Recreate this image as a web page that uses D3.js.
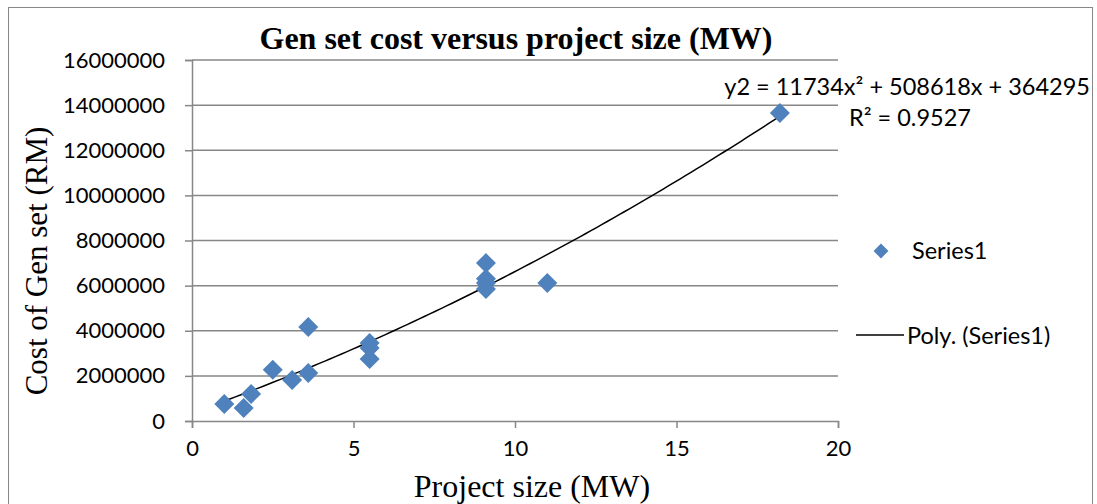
<!DOCTYPE html>
<html>
<head>
<meta charset="utf-8">
<script src="https://cdn.jsdelivr.net/npm/d3@7"></script>
<style>
  body { margin: 0; background: #fff; }
  svg { display: block; }
</style>
</head>
<body>
<div id="container"></div>
<script>
// data: project size (MW) and gen set cost (RM)
const sizeMW = [1.0, 1.6, 1.83, 2.5, 3.1, 3.6, 3.6, 5.5, 5.5, 5.5, 9.1, 9.1, 9.1, 9.1, 11.0, 18.2];
const costRM = [750000, 580000, 1200000, 2270000, 1820000, 2130000, 4170000, 3460000, 3240000, 2750000,
                7000000, 6300000, 6120000, 5850000, 6120000, 13650000];

// trendline coefficients as printed on the chart
const polyCoef = [364295, 508618, 11734];
const xTicks = [0, 5, 10, 15, 20];
const yTicks = [0, 2000000, 4000000, 6000000, 8000000, 10000000, 12000000, 14000000, 16000000];

const width = 1097, height = 504;
const plot = { left: 192, right: 838, top: 60, bottom: 421 };
const blue = "#4f81bd", grid = "#878787";
const tickFont = "Lato, 'Open Sans', sans-serif";
const serif = "'Liberation Serif', 'Times New Roman', serif";

const svg = d3.select("#container").append("svg")
  .attr("width", width).attr("height", height);

// outer chart border
svg.append("rect")
  .attr("x", 8.5).attr("y", 7.5).attr("width", 1084).attr("height", 520)
  .attr("fill", "none").attr("stroke", grid).attr("stroke-width", 1);

const xScale = d3.scaleLinear().domain([0, 20]).range([plot.left, plot.right]);
const yScale = d3.scaleLinear().domain([0, 16000000]).range([plot.bottom, plot.top]);

// horizontal gridlines
svg.append("g").selectAll("line")
  .data(yTicks.filter(d => d > 0))
  .join("line")
  .attr("x1", plot.left).attr("x2", plot.right)
  .attr("y1", d => yScale(d)).attr("y2", d => yScale(d))
  .attr("stroke", grid).attr("stroke-width", 1.5);

// y axis
const yAxis = svg.append("g")
  .attr("transform", `translate(${plot.left},0)`)
  .call(d3.axisLeft(yScale).tickValues(yTicks).tickSize(7).tickPadding(20).tickFormat(d3.format("d")));
// x axis
const xAxis = svg.append("g")
  .attr("transform", `translate(0,${plot.bottom})`)
  .call(d3.axisBottom(xScale).tickValues(xTicks).tickSize(7).tickPadding(12).tickFormat(d3.format("d")));

[yAxis, xAxis].forEach(a => {
  a.select(".domain").attr("stroke", grid).attr("stroke-width", 1.5);
  a.selectAll(".tick line").attr("stroke", grid).attr("stroke-width", 1.5);
  a.selectAll(".tick text").attr("fill", "#000")
    .style("font-family", tickFont).style("font-size", "22px");
});

// polynomial trendline from the printed fit
const poly = x => polyCoef[0] + polyCoef[1] * x + polyCoef[2] * x * x;
const xs = d3.range(0, 101).map(i => d3.min(sizeMW) + (d3.max(sizeMW) - d3.min(sizeMW)) * i / 100);
svg.append("path")
  .datum(xs)
  .attr("d", d3.line().x(d => xScale(d)).y(d => yScale(poly(d))))
  .attr("fill", "none").attr("stroke", "#000").attr("stroke-width", 1.5);

// diamonds
const diamond = d3.symbol().type(d3.symbolSquare).size(200);
svg.append("g").selectAll("path")
  .data(sizeMW.map((x, i) => [x, costRM[i]]))
  .join("path")
  .attr("d", diamond)
  .attr("transform", d => `translate(${xScale(d[0])},${yScale(d[1])}) rotate(45)`)
  .attr("fill", blue);

// title
svg.append("text")
  .attr("x", 516).attr("y", 49).attr("text-anchor", "middle")
  .style("font-family", serif).style("font-weight", "bold").style("font-size", "32px")
  .text("Gen set cost versus project size (MW)");

// axis titles
svg.append("text")
  .attr("transform", "translate(47,261) rotate(-90)").attr("text-anchor", "middle")
  .style("font-family", serif).style("font-size", "31px")
  .text("Cost of Gen set (RM)");
svg.append("text")
  .attr("x", 532).attr("y", 497).attr("text-anchor", "middle")
  .style("font-family", serif).style("font-size", "32px")
  .text("Project size (MW)");

// trendline equation
const eq = svg.append("g").style("font-family", tickFont).style("font-size", "23.5px");
eq.append("text").attr("x", 1090).attr("y", 95).attr("text-anchor", "end")
  .text("y2 = 11734x² + 508618x + 364295");
eq.append("text").attr("x", 849).attr("y", 126)
  .text("R² = 0.9527");

// legend
const legend = svg.append("g").style("font-family", tickFont).style("font-size", "23.5px");
legend.append("path")
  .attr("d", d3.symbol().type(d3.symbolSquare).size(110))
  .attr("transform", "translate(881,251) rotate(45)")
  .attr("fill", blue);
legend.append("text").attr("x", 912).attr("y", 259).text("Series1");
legend.append("line")
  .attr("x1", 856).attr("x2", 904).attr("y1", 335).attr("y2", 335)
  .attr("stroke", "#000").attr("stroke-width", 1.5);
legend.append("text").attr("x", 907).attr("y", 344).text("Poly. (Series1)");
</script>
</body>
</html>
